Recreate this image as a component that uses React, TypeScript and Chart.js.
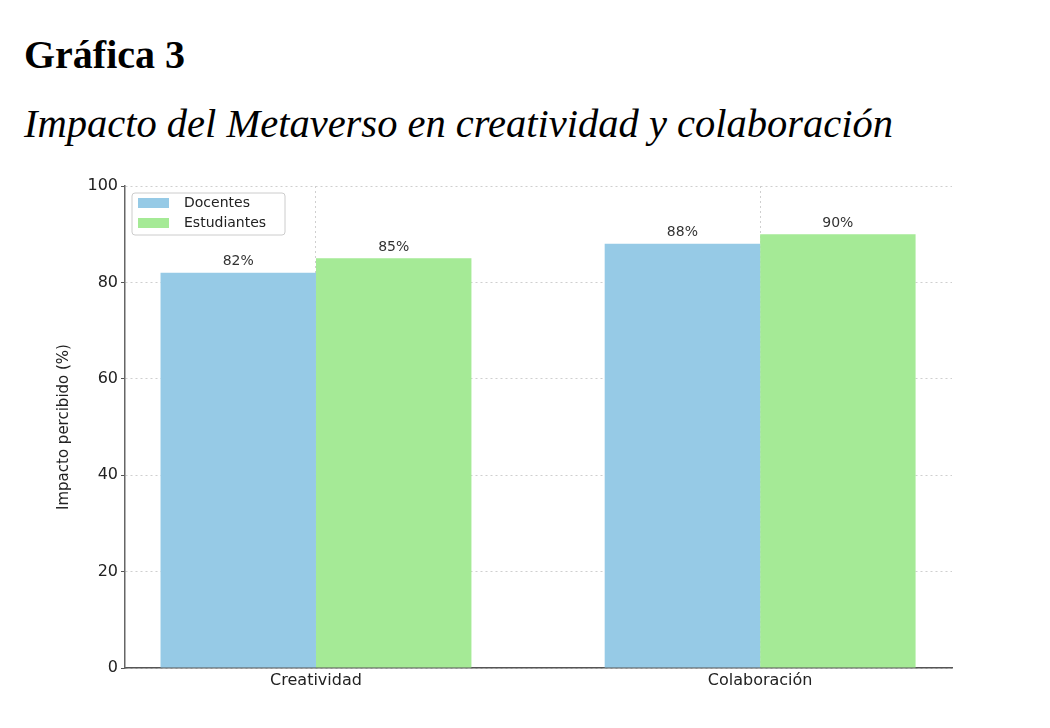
import React, { useEffect, useRef } from "react";
import { Chart, registerables } from "chart.js";

Chart.register(...registerables);

const categories = ["Creatividad", "Colaboración"];
const categoryPositions = [0, 1];
const docentes = [82, 88];
const estudiantes = [85, 90];
const seriesLabels = ["Docentes", "Estudiantes"];
const yTicks = [0, 20, 40, 60, 80, 100];

const BLUE = "#96CAE6";
const GREEN = "#A5EA96";
const FONT = "'DejaVu Sans', sans-serif";

const valueLabelPlugin = {
  id: "valueLabels",
  afterDatasetsDraw(chart: any) {
    const ctx = chart.ctx;
    ctx.save();
    ctx.font = `14px ${FONT}`;
    ctx.fillStyle = "#333";
    ctx.textAlign = "center";
    ctx.textBaseline = "bottom";
    chart.data.datasets.forEach((ds: any, di: number) => {
      const meta = chart.getDatasetMeta(di);
      meta.data.forEach((el: any, i: number) => {
        const v = ds.data[i].y;
        ctx.fillText(`${v}%`, el.x, el.y - 4);
      });
    });
    ctx.restore();
  },
};

const boxLegendPlugin = {
  id: "boxLegend",
  afterDraw(chart: any) {
    const ctx = chart.ctx;
    const area = chart.chartArea;
    const x = area.left + 7;
    const y = area.top + 7;
    const w = 153;
    const h = 42;
    ctx.save();
    ctx.beginPath();
    if (ctx.roundRect) ctx.roundRect(x, y, w, h, 3);
    else ctx.rect(x, y, w, h);
    ctx.fillStyle = "rgba(255,255,255,0.85)";
    ctx.fill();
    ctx.strokeStyle = "#cccccc";
    ctx.lineWidth = 1;
    ctx.stroke();
    ctx.font = `14px ${FONT}`;
    ctx.textBaseline = "middle";
    ctx.textAlign = "left";
    chart.data.datasets.forEach((ds: any, i: number) => {
      const cy = y + 10 + i * 20;
      ctx.fillStyle = ds.backgroundColor;
      ctx.fillRect(x + 6, cy - 5, 31, 10);
      ctx.fillStyle = "#222";
      ctx.fillText(ds.label, x + 52, cy);
    });
    ctx.restore();
  },
};

export default function App() {
  const ref = useRef<HTMLCanvasElement | null>(null);

  useEffect(() => {
    if (!ref.current) return;
    const chart = new Chart(ref.current, {
      type: "bar",
      data: {
        datasets: [
          {
            label: seriesLabels[0],
            data: categoryPositions.map((p, i) => ({ x: p, y: docentes[i] })),
            backgroundColor: BLUE,
            borderWidth: 0,
          },
          {
            label: seriesLabels[1],
            data: categoryPositions.map((p, i) => ({ x: p, y: estudiantes[i] })),
            backgroundColor: GREEN,
            borderWidth: 0,
          },
        ],
      },
      plugins: [valueLabelPlugin, boxLegendPlugin],
      options: {
        responsive: false,
        animation: false,
        layout: { padding: { left: 54, right: 98, top: 186, bottom: 0 } },
        datasets: {
          bar: { categoryPercentage: 0.7, barPercentage: 1.0 },
        },
        plugins: {
          legend: { display: false },
          tooltip: { enabled: false },
          title: { display: false },
        },
        scales: {
          x: {
            type: "linear",
            min: -0.43,
            max: 1.432,
            offset: false,
            afterBuildTicks: (scale: any) => {
              scale.ticks = categoryPositions.map((v) => ({ value: v }));
            },
            afterFit: (scale: any) => {
              scale.height = 60;
            },
            ticks: {
              callback: (v: any) => categories[categoryPositions.indexOf(Number(v))] ?? "",
              font: { family: FONT, size: 16 },
              color: "#222",
              padding: 3,
              maxRotation: 0,
              autoSkip: false,
            },
            grid: {
              offset: false,
              drawTicks: false,
              color: "#cfcfcf",
              lineWidth: 1,
            },
            border: { display: true, color: "#555", width: 1.5, dash: [2, 3] },
          },
          y: {
            min: 0,
            max: 100,
            afterBuildTicks: (scale: any) => {
              scale.ticks = yTicks.map((v) => ({ value: v }));
            },
            afterFit: (scale: any) => {
              scale.width = 71;
            },
            ticks: {
              font: { family: FONT, size: 16 },
              color: "#222",
              padding: 3,
            },
            grid: {
              color: "#cfcfcf",
              lineWidth: 1,
              tickLength: 4,
              tickColor: "#555",
              tickBorderDash: [],
            },
            border: { display: true, color: "#666", width: 1.5, dash: [2, 3] },
            title: {
              display: true,
              text: "Impacto percibido (%)",
              font: { family: FONT, size: 15 },
              color: "#222",
              padding: { top: 1, bottom: 0 },
            },
          },
        },
      } as any,
    });
    return () => chart.destroy();
  }, []);

  return (
    <div style={{ position: "absolute", left: 0, top: 0, width: 1050, height: 728, background: "#fff" }}>
      <div
        style={{
          position: "absolute",
          left: 24,
          top: 35,
          fontFamily: "'Liberation Serif', 'Times New Roman', serif",
          fontWeight: "bold",
          fontSize: 40,
          lineHeight: "40px",
          whiteSpace: "nowrap",
          color: "#000",
        }}
      >
        Gráfica 3
      </div>
      <div
        style={{
          position: "absolute",
          left: 24,
          top: 104,
          fontFamily: "'Liberation Serif', 'Times New Roman', serif",
          fontStyle: "italic",
          fontSize: 40.5,
          lineHeight: "40px",
          whiteSpace: "nowrap",
          color: "#000",
        }}
      >
        Impacto del Metaverso en creatividad y colaboración
      </div>
      <canvas
        ref={ref}
        width={1050}
        height={728}
        style={{ position: "absolute", left: 0, top: 0, width: 1050, height: 728 }}
      />
    </div>
  );
}
